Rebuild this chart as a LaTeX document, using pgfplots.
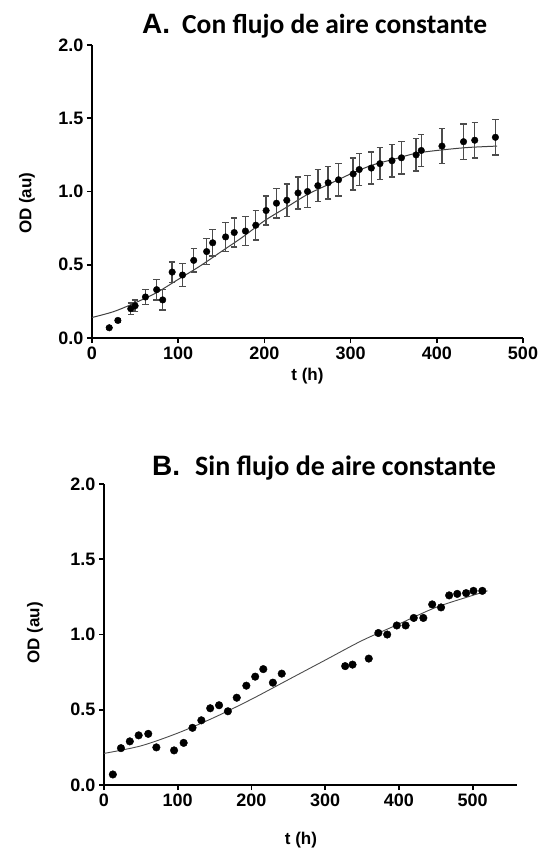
\documentclass[border=0pt]{standalone}
\usepackage{fontspec}
\setmainfont{Liberation Sans}
\newfontfamily\calib{Carlito}
\usepackage{pgfplots}
\usepackage{pgfplotstable}
\pgfplotsset{compat=1.18}
\pgfplotstableread{
x y e
20 0.07 0.01
30 0.12 0.01
45 0.20 0.04
50 0.22 0.04
62 0.28 0.05
75 0.33 0.07
82 0.26 0.07
93 0.45 0.07
105 0.43 0.08
118 0.53 0.08
133 0.59 0.09
140 0.65 0.09
155 0.69 0.10
165 0.72 0.10
178 0.73 0.10
190 0.77 0.10
202 0.87 0.10
214 0.92 0.10
226 0.94 0.11
239 0.99 0.11
250 1.00 0.11
262 1.04 0.11
274 1.06 0.11
286 1.08 0.11
303 1.12 0.11
310 1.15 0.11
324 1.16 0.11
334 1.19 0.11
348 1.21 0.11
359 1.23 0.11
376 1.25 0.11
382 1.28 0.11
406 1.31 0.12
431 1.34 0.12
444 1.35 0.12
468 1.37 0.12
}\dataA
\pgfplotstableread{
x y
12 0.07
23 0.245
35 0.29
47 0.33
60 0.34
71 0.25
95 0.23
108 0.28
120 0.38
132 0.43
144 0.51
156 0.53
168 0.49
180 0.58
193 0.66
205 0.72
216 0.77
229 0.68
241 0.74
327 0.79
337 0.80
359 0.84
372 1.01
384 1.00
397 1.06
409 1.06
420 1.11
433 1.11
445 1.20
457 1.18
468 1.26
479 1.27
491 1.275
501 1.29
513 1.29
}\dataB
\pgfplotsset{
 gp/.style={
  scale only axis,
  axis lines*=left,
  axis line style={line width=1.8pt, black},
  tick style={line width=1.6pt, black},
  tick align=outside,
  major tick length=5pt,
  ymin=0, ymax=2,
  ytick={0,0.5,1,1.5,2},
  yticklabel style={/pgf/number format/fixed, /pgf/number format/fixed zerofill, /pgf/number format/precision=1},
  ticklabel style={font=\fontsize{18}{18}\selectfont\bfseries},
  /pgf/number format/assume math mode=true,
  label style={font=\fontsize{17}{17}\selectfont\bfseries},
  clip=false,
 }
}
\begin{document}
\begin{tikzpicture}
\path[use as bounding box] (0pt,0pt) rectangle (542pt,-857pt);
\node[anchor=base west, inner sep=0pt] at (142pt,-33pt) {{\fontsize{28}{28}\selectfont\bfseries A.}\hspace{12pt}{\calib\fontsize{27.5}{27.5}\selectfont\bfseries Con flujo de aire constante}};
\node[anchor=base west, inner sep=0pt] at (152pt,-475pt) {{\fontsize{28}{28}\selectfont\bfseries B.}\hspace{15pt}{\calib\fontsize{28}{28}\selectfont\bfseries Sin flujo de aire constante}};
\begin{axis}[gp, at={(92pt,-338pt)}, anchor=south west, width=431pt, height=293pt,
  xmin=0, xmax=500, xtick={0,100,200,300,400,500},
  xlabel={t (h)}, ylabel={OD (au)},
  xlabel style={at={(axis description cs:0.5,-0.13)}, anchor=center},
  ylabel style={at={(axis description cs:-0.151,0.46)}, anchor=center}]
\addplot[gray!50!black, line width=1pt, smooth] coordinates {(0,0.14)(25,0.18)(50,0.24)(75,0.31)(100,0.40)(125,0.49)(150,0.59)(175,0.69)(200,0.80)(225,0.89)(250,0.98)(275,1.05)(300,1.12)(325,1.18)(350,1.22)(375,1.26)(400,1.28)(435,1.30)(470,1.31)};
\addplot[only marks, mark=*, mark size=3.3pt, black,
  error bars/.cd, y dir=both, y explicit,
  error bar style={line width=1.4pt, black!70},
  error mark=-,
  error mark options={rotate=90, mark size=3.2pt, line width=1.4pt, black!70}]
  table[x=x, y=y, y error=e] {\dataA};
\end{axis}
\begin{axis}[gp, at={(104pt,-785pt)}, anchor=south west, width=413pt, height=301pt,
  xmin=0, xmax=560, xtick={0,100,200,300,400,500},
  xlabel={t (h)}, ylabel={OD (au)},
  xlabel style={at={(axis description cs:0.477,-0.183)}, anchor=center},
  ylabel style={at={(axis description cs:-0.167,0.505)}, anchor=center}]
\addplot[gray!60!black, line width=0.9pt, smooth] coordinates {(0,0.21)(50,0.26)(100,0.345)(150,0.45)(200,0.57)(250,0.70)(300,0.83)(350,0.96)(400,1.07)(450,1.18)(500,1.26)(520,1.29)};
\addplot[only marks, mark=*, mark size=3.8pt, black] table[x=x, y=y] {\dataB};
\end{axis}
\end{tikzpicture}
\end{document}
